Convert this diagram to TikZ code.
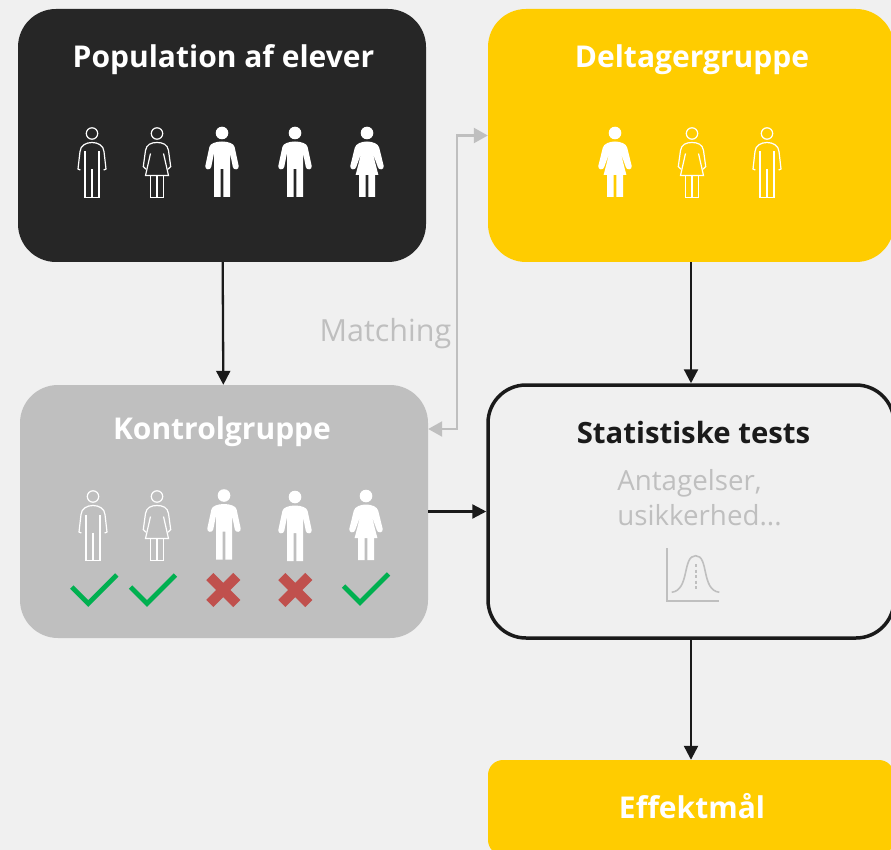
\documentclass[tikz,border=0pt]{standalone}
\usepackage{fontspec}
\setmainfont{Open Sans}
\usetikzlibrary{arrows.meta}
\definecolor{bgcol}{HTML}{F0F0F0}
\definecolor{darkcol}{HTML}{262626}
\definecolor{yellowcol}{HTML}{FFCC00}
\definecolor{greycol}{HTML}{BFBFBF}
\definecolor{linecol}{HTML}{1A1A1A}
\definecolor{okcol}{HTML}{00B050}
\definecolor{nocol}{HTML}{C0504D}
\tikzstyle{group} = [rectangle, rounded corners=38pt, minimum width=408pt, minimum height=253pt, inner sep=0pt]
\tikzstyle{title} = [font=\fontsize{30}{36}\selectfont\bfseries, text=white, inner sep=0pt, anchor=base]
\tikzstyle{note} = [font=\fontsize{27.7}{35}\selectfont, text=greycol, inner sep=0pt]
\tikzstyle{arrow} = [line width=2.3pt, draw=linecol, -{Triangle[length=14pt,width=14pt]}]
\tikzstyle{greyarrow} = [line width=2.3pt, draw=greycol, {Triangle[length=14pt,width=15pt]}-{Triangle[length=14pt,width=15pt]}]
\tikzset{
    manfull/.pic={
        \fill[white] (0,0) circle (6.3);
        \fill[white] (-8,64) -- (-8,20) -- (-10.8,34) .. controls (-11.2,37.5) and (-17.5,37) .. (-16.7,33) -- (-12.6,14) .. controls (-12,10.5) and (-6,8.5) .. (0,8.5) .. controls (6,8.5) and (12,10.5) .. (12.6,14) -- (16.7,33) .. controls (17.5,37) and (11.2,37.5) .. (10.8,34) -- (8,20) -- (8,64) -- (1.3,64) -- (1.3,36) -- (-1.3,36) -- (-1.3,64) -- cycle;
    },
    womanfull/.pic={
        \fill[white] (0,0) circle (6.3);
        \fill[white] (-11.4,42) -- (-5.7,20) -- (-10.8,34) .. controls (-11.2,37.5) and (-17.5,37) .. (-16.7,33) -- (-12.3,15) .. controls (-11.5,10.5) and (-5,8.5) .. (0,8.5) .. controls (5,8.5) and (11.5,10.5) .. (12.3,15) -- (16.7,33) .. controls (17.5,37) and (11.2,37.5) .. (10.8,34) -- (5.7,20) -- (11.4,42) -- cycle;
        \fill[white] (-8,41) rectangle (-1.3,64) (1.3,41) rectangle (8,64);
    },
    manline/.pic={
        \draw[white, line width=1.2pt] (0,0) circle (5.7);
        \draw[white, line width=1.2pt] (-11.7,36.5) -- (-14,35.5) -- (-12,18) .. controls (-11.5,12) and (-6,9) .. (0,9) .. controls (6,9) and (11.5,12) .. (12,18) -- (14,35.5) -- (11.7,36.5);
        \draw[white, line width=1.2pt] (-7,18) -- (-7,64) -- (7,64) -- (7,18) (0,36) -- (0,64);
    },
    womanline/.pic={
        \draw[white, line width=1.2pt] (0,0) circle (5.7);
        \draw[white, line width=1.2pt] (-11,35.7) -- (-13.7,33) -- (-11.5,17) .. controls (-10.5,11) and (-6,9) .. (0,9) .. controls (6,9) and (10.5,11) .. (11.5,17) -- (13.7,33) -- (11,35.7);
        \draw[white, line width=1.2pt] (-6.5,20) -- (-11.5,42) -- (11.5,42) -- (6.5,20);
        \draw[white, line width=1.2pt] (-6.7,42) -- (-6.7,64) -- (6.7,64) -- (6.7,42) (0,42) -- (0,64);
    },
    okmark/.pic={
        \draw[okcol, line width=4.8pt] (-16.5,-8) -- (0,8.5) -- (28.5,-20);
    },
    nomark/.pic={
        \draw[nocol, line width=10pt] (-13.5,-13.5) -- (13.5,13.5) (-13.5,13.5) -- (13.5,-13.5);
    }
}

\begin{document}
\begin{tikzpicture}[x=1pt, y=-1pt]
    \useasboundingbox (0,0) rectangle (891,850);
    \clip (0,0) rectangle (891,850);
    \fill[bgcol] (0,0) rectangle (891,850);

    \node [group, fill=darkcol] at (222,135.5) (population) {};
    \node [group, fill=yellowcol, minimum width=406pt] at (691,135.5) (deltager) {};
    \node [group, fill=greycol] at (224,511.5) (kontrol) {};
    \node [group, draw=linecol, line width=3.5pt, fill=bgcol, minimum width=406pt] at (691,511.5) (tests) {};
    \node [group, fill=yellowcol, rounded corners=15pt, minimum width=406pt, minimum height=95pt] at (691,807.5) (effekt) {};

    \node [title] at (223.5,67.5) (populationtitle) {Population af elever};
    \node [title] at (692,67.5) (deltagertitle) {Deltagergruppe};
    \node [title] at (222,439.5) (kontroltitle) {Kontrolgruppe};
    \node [title, text=linecol, font=\fontsize{29.3}{36}\selectfont\bfseries] at (693.5,443) (teststitle) {Statistiske tests};
    \node [title] at (692,818) (effekttitle) {Effektmål};
    \node [note, align=left] at (699.5,498) (testsnote) {Antagelser,\\usikkerhed...};
    \node [note, font=\fontsize{30.5}{36}\selectfont] at (385.5,334) (matching) {Matching};

    % people
    \foreach \xx/\yy/\kind in {92/133.5/manline, 157/133.5/womanline, 222/133/manfull, 295/133/manfull, 367/133/womanfull, 615/133/womanfull, 692/133.5/womanline, 767/133.5/manline, 93/496.5/manline, 157/496.5/womanline, 224/495.5/manfull, 295/497/manfull, 366/496/womanfull}
        \pic at (\xx,\yy) {\kind};

    % marks
    \foreach \xx/\yy in {88.3/595, 147/595, 360/594}
        \pic at (\xx,\yy) {okmark};
    \foreach \xx in {223.3, 295.3}
        \pic at (\xx,590) {nomark};

    % bell curve
    \draw [greycol, line width=2pt] (666.7,548.3) -- (666.7,600.7) -- (719.3,600.7);
    \draw [greycol, line width=1.6pt] (671.7,592.3) .. controls (690,590) and (682,555.7) .. (695.7,555.7) .. controls (709,555.7) and (701,590) .. (719.3,592.3);
    \draw [greycol, line width=1.9pt, dash pattern=on 3pt off 2.5pt] (695.7,564) -- (695.7,590);

    \coordinate (matchtop) at (457,135.5);
    \coordinate (matchbottom) at (457,429);

    \draw [arrow] (population) -- (kontrol);
    \draw [arrow] (deltager) -- (tests);
    \draw [arrow] (kontrol) -- (tests);
    \draw [arrow] (tests) -- (effekt);
    \draw [greyarrow] (deltager.west) -- (matchtop) -- (matchbottom) -- (kontrol.east |- matchbottom);
\end{tikzpicture}
\end{document}
